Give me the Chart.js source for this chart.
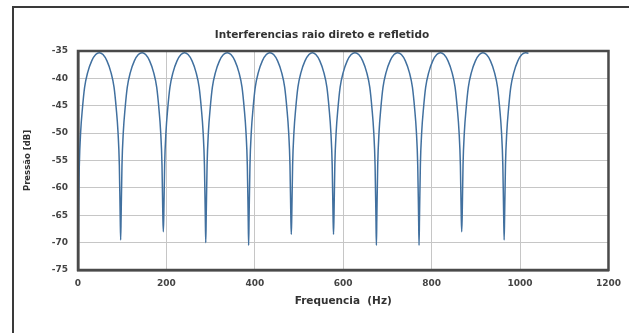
<!DOCTYPE html>
<html>
<head>
<meta charset="utf-8">
<script src="https://cdn.jsdelivr.net/npm/chart.js@4.4.1/dist/chart.umd.min.js"></script>
<style>
  html, body { margin: 0; padding: 0; background: #ffffff; }
  #wrap { position: relative; width: 629px; height: 333px; overflow: hidden; }
  #frame { position: absolute; left: 12px; top: 6px; width: 640px; height: 360px;
           border-left: 2px solid #3a3a3a; border-top: 2px solid #3a3a3a; box-sizing: border-box; }
  #c { position: absolute; left: 0; top: 0; }
</style>
</head>
<body>
<div id="wrap">
  <div id="frame"></div>
  <canvas id="c" width="629" height="333"></canvas>
</div>
<script>
// ---- data ----
const chartTitle = 'Interferencias raio direto e refletido';
const xAxisTitle = 'Frequencia  (Hz)';
const yAxisTitle = 'Pressão [dB]';
const xTicks = [0, 200, 400, 600, 800, 1000, 1200];
const yTicks = [-75, -70, -65, -60, -55, -50, -45, -40, -35];

const freqHz = [
  0.5, 1, 3, 6, 10, 15, 22, 31, 40, 48, 56.5, 65.5, 74.5, 81.5, 86.5, 90.5, 93.5, 95.5, 96.5,
  97.5, 99.5, 102.5, 106.5, 111.5, 118.5, 127.5, 136.5, 145, 153, 162, 171, 178, 183, 187, 190, 192, 193,
  194, 196, 199, 203, 208, 215, 224, 233, 241, 249, 258, 267, 274, 279, 283, 286, 288, 289,
  290, 292, 295, 299, 304, 311, 320, 329, 337.5, 346, 355, 364, 371, 376, 380, 383, 385, 386,
  387, 389, 392, 396, 401, 408, 417, 426, 434, 442.5, 451.5, 460.5, 467.5, 472.5, 476.5, 479.5, 481.5, 482.5,
  483.5, 485.5, 488.5, 492.5, 497.5, 504.5, 513.5, 522.5, 530, 538, 547, 556, 563, 568, 572, 575, 577, 578,
  579, 581, 584, 588, 593, 600, 609, 618, 626.5, 635, 644, 653, 660, 665, 669, 672, 674, 675,
  676, 678, 681, 685, 690, 697, 706, 715, 723, 731.5, 740.5, 749.5, 756.5, 761.5, 765.5, 768.5, 770.5, 771.5,
  772.5, 774.5, 777.5, 781.5, 786.5, 793.5, 802.5, 811.5, 820, 828, 837, 846, 853, 858, 862, 865, 867, 868,
  869, 871, 874, 878, 883, 890, 899, 908, 916, 924, 933, 942, 949, 954, 958, 961, 963, 964,
  965, 967, 970, 974, 979, 986, 995, 1004, 1012, 1019
];

const pressureDb = [
  -71.4, -65.4, -55.8, -49.8, -45.5, -41.6, -38.9, -36.8, -35.65, -35.3, -35.65, -36.8, -38.9, -41.6, -45.5, -49.8, -55.8, -65.4, -69.5,
  -65.4, -55.8, -49.8, -45.5, -41.6, -38.9, -36.8, -35.65, -35.3, -35.65, -36.8, -38.9, -41.6, -45.5, -49.8, -55.8, -65.4, -68,
  -65.4, -55.8, -49.8, -45.5, -41.6, -38.9, -36.8, -35.65, -35.3, -35.65, -36.8, -38.9, -41.6, -45.5, -49.8, -55.8, -65.4, -70,
  -65.4, -55.8, -49.8, -45.5, -41.6, -38.9, -36.8, -35.65, -35.3, -35.65, -36.8, -38.9, -41.6, -45.5, -49.8, -55.8, -65.4, -70.5,
  -65.4, -55.8, -49.8, -45.5, -41.6, -38.9, -36.8, -35.65, -35.3, -35.65, -36.8, -38.9, -41.6, -45.5, -49.8, -55.8, -65.4, -68.5,
  -65.4, -55.8, -49.8, -45.5, -41.6, -38.9, -36.8, -35.65, -35.3, -35.65, -36.8, -38.9, -41.6, -45.5, -49.8, -55.8, -65.4, -68.5,
  -65.4, -55.8, -49.8, -45.5, -41.6, -38.9, -36.8, -35.65, -35.3, -35.65, -36.8, -38.9, -41.6, -45.5, -49.8, -55.8, -65.4, -70.5,
  -65.4, -55.8, -49.8, -45.5, -41.6, -38.9, -36.8, -35.65, -35.3, -35.65, -36.8, -38.9, -41.6, -45.5, -49.8, -55.8, -65.4, -70.5,
  -65.4, -55.8, -49.8, -45.5, -41.6, -38.9, -36.8, -35.65, -35.3, -35.65, -36.8, -38.9, -41.6, -45.5, -49.8, -55.8, -65.4, -68,
  -65.4, -55.8, -49.8, -45.5, -41.6, -38.9, -36.8, -35.65, -35.3, -35.65, -36.8, -38.9, -41.6, -45.5, -49.8, -55.8, -65.4, -69.5,
  -65.4, -55.8, -49.8, -45.5, -41.6, -38.9, -36.8, -35.65, -35.3, -35.4
];

// ---- chart ----
const FONT = 'DejaVu Sans';
const points = freqHz.map((f, i) => ({ x: f, y: pressureDb[i] }));

const frameArea = {
  id: 'frameArea',
  afterDatasetsDraw(chart) {
    const { ctx, chartArea: a } = chart;
    ctx.save();
    ctx.strokeStyle = '#4a4a4a';
    ctx.lineWidth = 2.5;
    ctx.strokeRect(a.left, a.top, a.right - a.left, a.bottom - a.top);
    ctx.restore();
  }
};

new Chart(document.getElementById('c'), {
  type: 'line',
  data: {
    datasets: [{
      data: points,
      borderColor: '#41709f',
      borderWidth: 1.5,
      pointRadius: 0,
      fill: false,
      cubicInterpolationMode: 'monotone'
    }]
  },
  plugins: [frameArea],
  options: {
    responsive: false,
    animation: false,
    layout: { padding: { left: 34, right: 19, top: 0, bottom: 0 } },
    plugins: {
      legend: { display: false },
      tooltip: { enabled: false },
      title: {
        display: true, text: chartTitle, color: '#333333',
        font: { family: FONT, size: 10.5, weight: 'bold' },
        padding: { top: 29, bottom: 9.4 }
      }
    },
    scales: {
      x: {
        type: 'linear', min: xTicks[0], max: xTicks[xTicks.length - 1],
        afterBuildTicks: s => { s.ticks = xTicks.map(v => ({ value: v })); },
        afterFit: s => { s.height = 63; },
        ticks: { color: '#444444', font: { family: FONT, size: 9, weight: 'bold' }, padding: 8,
                 callback: v => String(v) },
        grid: { color: '#c6c6c6', lineWidth: 1, drawTicks: false },
        border: { color: '#4a4a4a', width: 2.5 },
        title: { display: true, text: xAxisTitle, color: '#333333',
                 font: { family: FONT, size: 10.5, weight: 'bold' },
                 padding: { top: 0, bottom: 25.7 } }
      },
      y: {
        type: 'linear', min: yTicks[0], max: yTicks[yTicks.length - 1],
        afterBuildTicks: s => { s.ticks = yTicks.map(v => ({ value: v })); },
        afterFit: s => { s.width = 44; },
        ticks: { color: '#444444', font: { family: FONT, size: 9, weight: 'bold' }, padding: 10,
                 callback: v => String(v) },
        grid: { color: '#c6c6c6', lineWidth: 1, drawTicks: false },
        border: { color: '#4a4a4a', width: 2.5 },
        title: { display: true, text: yAxisTitle, color: '#333333',
                 font: { family: FONT, size: 8.5, weight: 'bold' },
                 padding: { top: -11, bottom: 0 } }
      }
    }
  }
});
</script>
</body>
</html>
